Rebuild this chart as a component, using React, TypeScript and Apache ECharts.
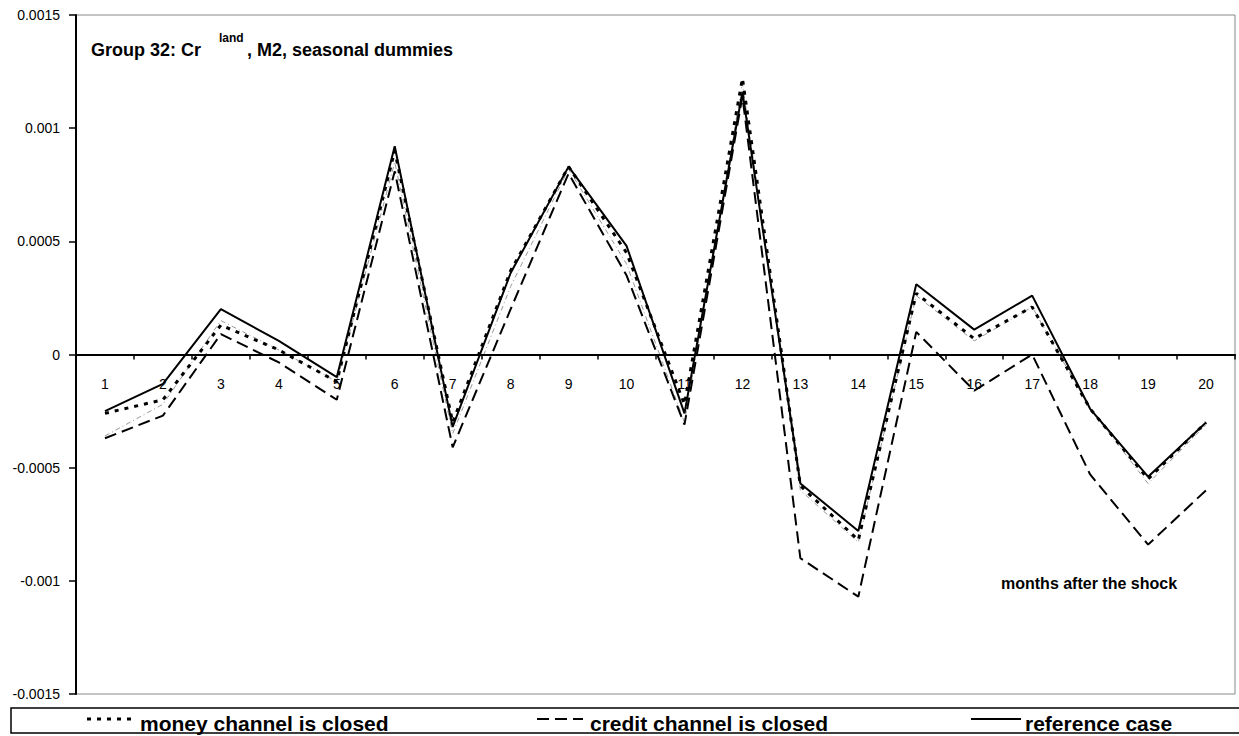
import React, { useEffect, useRef } from "react";
import * as echarts from "echarts";

const categories = ["1","2","3","4","5","6","7","8","9","10","11","12","13","14","15","16","17","18","19","20"];
const moneyClosed = [-0.00026,-0.0002,0.00013,0.00002,-0.00012,0.0009,-0.0003,0.00037,0.00083,0.00045,-0.00022,0.00122,-0.00058,-0.00082,0.00027,0.00007,0.00021,-0.00024,-0.00055,-0.0003];
const creditClosed = [-0.00037,-0.00027,0.00009,-0.000035,-0.0002,0.00081,-0.00041,0.0002,0.0008,0.00035,-0.00031,0.00114,-0.0009,-0.00107,0.0001,-0.00016,0.0,-0.00053,-0.00084,-0.0006];
const referenceCase = [-0.00025,-0.00013,0.0002,0.00006,-0.0001,0.00092,-0.00032,0.00036,0.00083,0.00048,-0.00026,0.00116,-0.00057,-0.00078,0.00031,0.00011,0.00026,-0.00024,-0.00054,-0.0003];
const grayThin = [-0.00036,-0.00022,0.00015,0.00002,-0.00012,0.00085,-0.00035,0.0003,0.00082,0.0004,-0.0003,0.0012,-0.0006,-0.00083,0.00026,0.00006,0.00021,-0.00024,-0.00057,-0.00031];
const yMin = -0.0015;
const yMax = 0.0015;
const yStep = 0.0005;
const legendLabels = ["money channel is closed", "credit channel is closed", "reference case"];

const FONT = "'Liberation Sans', Arial, sans-serif";
const GRID_TOP = 15;
const GRID_BOTTOM = 42;
const CHART_H = 736;

export default function App() {
  const ref = useRef<HTMLDivElement>(null);
  useEffect(() => {
    const chart = echarts.init(ref.current!, null, { renderer: "svg" });
    const plotH = CHART_H - GRID_TOP - GRID_BOTTOM;
    const zeroOffset = -plotH * (0 - yMin) / (yMax - yMin);
    chart.setOption({
      animation: false,
      backgroundColor: "#fff",
      textStyle: { fontFamily: FONT },
      grid: {
        left: 76, top: GRID_TOP, right: 4, bottom: GRID_BOTTOM,
        show: true, borderColor: "#888", borderWidth: 1, backgroundColor: "transparent",
      },
      xAxis: {
        type: "category",
        data: categories,
        position: "bottom",
        offset: zeroOffset,
        boundaryGap: true,
        axisLine: { onZero: false, lineStyle: { color: "#000", width: 2 } },
        axisTick: { show: true, length: 5, inside: false, alignWithLabel: false, lineStyle: { color: "#000", width: 1.5 } },
        axisLabel: { margin: 22, fontSize: 14, color: "#000", fontFamily: FONT, interval: 0 },
        splitLine: { show: false },
        z: 5,
      },
      yAxis: {
        type: "value",
        min: yMin, max: yMax, interval: yStep,
        axisLine: { show: true, onZero: false, lineStyle: { color: "#000", width: 2 } },
        axisTick: { show: true, length: 7, lineStyle: { color: "#000", width: 1.5 } },
        axisLabel: {
          margin: 16, fontSize: 14, color: "#000", fontFamily: FONT,
          formatter: (v: number) => (Math.abs(v) < 1e-12 ? "0" : String(+v.toFixed(4))),
        },
        splitLine: { show: false },
      },
      series: [
        { name: "other", type: "line", data: grayThin, symbol: "none", silent: true,
          lineStyle: { color: "#999", width: 1, type: [5, 3, 1, 3] }, z: 1 },
        { name: legendLabels[1], type: "line", data: creditClosed, symbol: "none",
          lineStyle: { color: "#000", width: 2, type: [12, 6], cap: "butt" }, z: 2 },
        { name: legendLabels[0], type: "line", data: moneyClosed, symbol: "none",
          lineStyle: { color: "#000", width: 3, type: [4, 6], cap: "butt" }, z: 3 },
        { name: legendLabels[2], type: "line", data: referenceCase, symbol: "none",
          lineStyle: { color: "#000", width: 2 }, z: 4 },
      ],
      graphic: [
        { type: "text", left: 91, top: 41, style: { text: "Group 32: Cr", font: `bold 18px ${FONT}`, fill: "#000" } },
        { type: "text", left: 219, top: 32, style: { text: "land", font: `bold 12px ${FONT}`, fill: "#000" } },
        { type: "text", left: 247, top: 41, style: { text: ", M2, seasonal dummies", font: `bold 18px ${FONT}`, fill: "#000" } },
        { type: "text", left: 1001, top: 575, style: { text: "months after the shock", font: `bold 16px ${FONT}`, fill: "#000" } },
        { type: "rect", shape: { x: 11, y: 708, width: 1240, height: 25 }, style: { fill: "none", stroke: "#000", lineWidth: 1.5 }, z: 10 },
        { type: "line", shape: { x1: 87, y1: 719, x2: 131, y2: 719 }, style: { stroke: "#000", lineWidth: 3, lineDash: [4, 6] }, z: 10 },
        { type: "text", x: 140, y: 713, style: { text: legendLabels[0], font: `bold 21px ${FONT}`, fill: "#000", verticalAlign: "top" }, z: 10 },
        { type: "line", shape: { x1: 537, y1: 719, x2: 583, y2: 719 }, style: { stroke: "#000", lineWidth: 2, lineDash: [12, 6] }, z: 10 },
        { type: "text", x: 590, y: 713, style: { text: legendLabels[1], font: `bold 21px ${FONT}`, fill: "#000", verticalAlign: "top" }, z: 10 },
        { type: "line", shape: { x1: 971, y1: 719, x2: 1021, y2: 719 }, style: { stroke: "#000", lineWidth: 2 }, z: 10 },
        { type: "text", x: 1025, y: 713, style: { text: legendLabels[2], font: `bold 21px ${FONT}`, fill: "#000", verticalAlign: "top" }, z: 10 },
      ],
    });
    return () => chart.dispose();
  }, []);
  return <div ref={ref} style={{ position: "absolute", left: 0, top: 0, width: 1239, height: 736 }} />;
}
